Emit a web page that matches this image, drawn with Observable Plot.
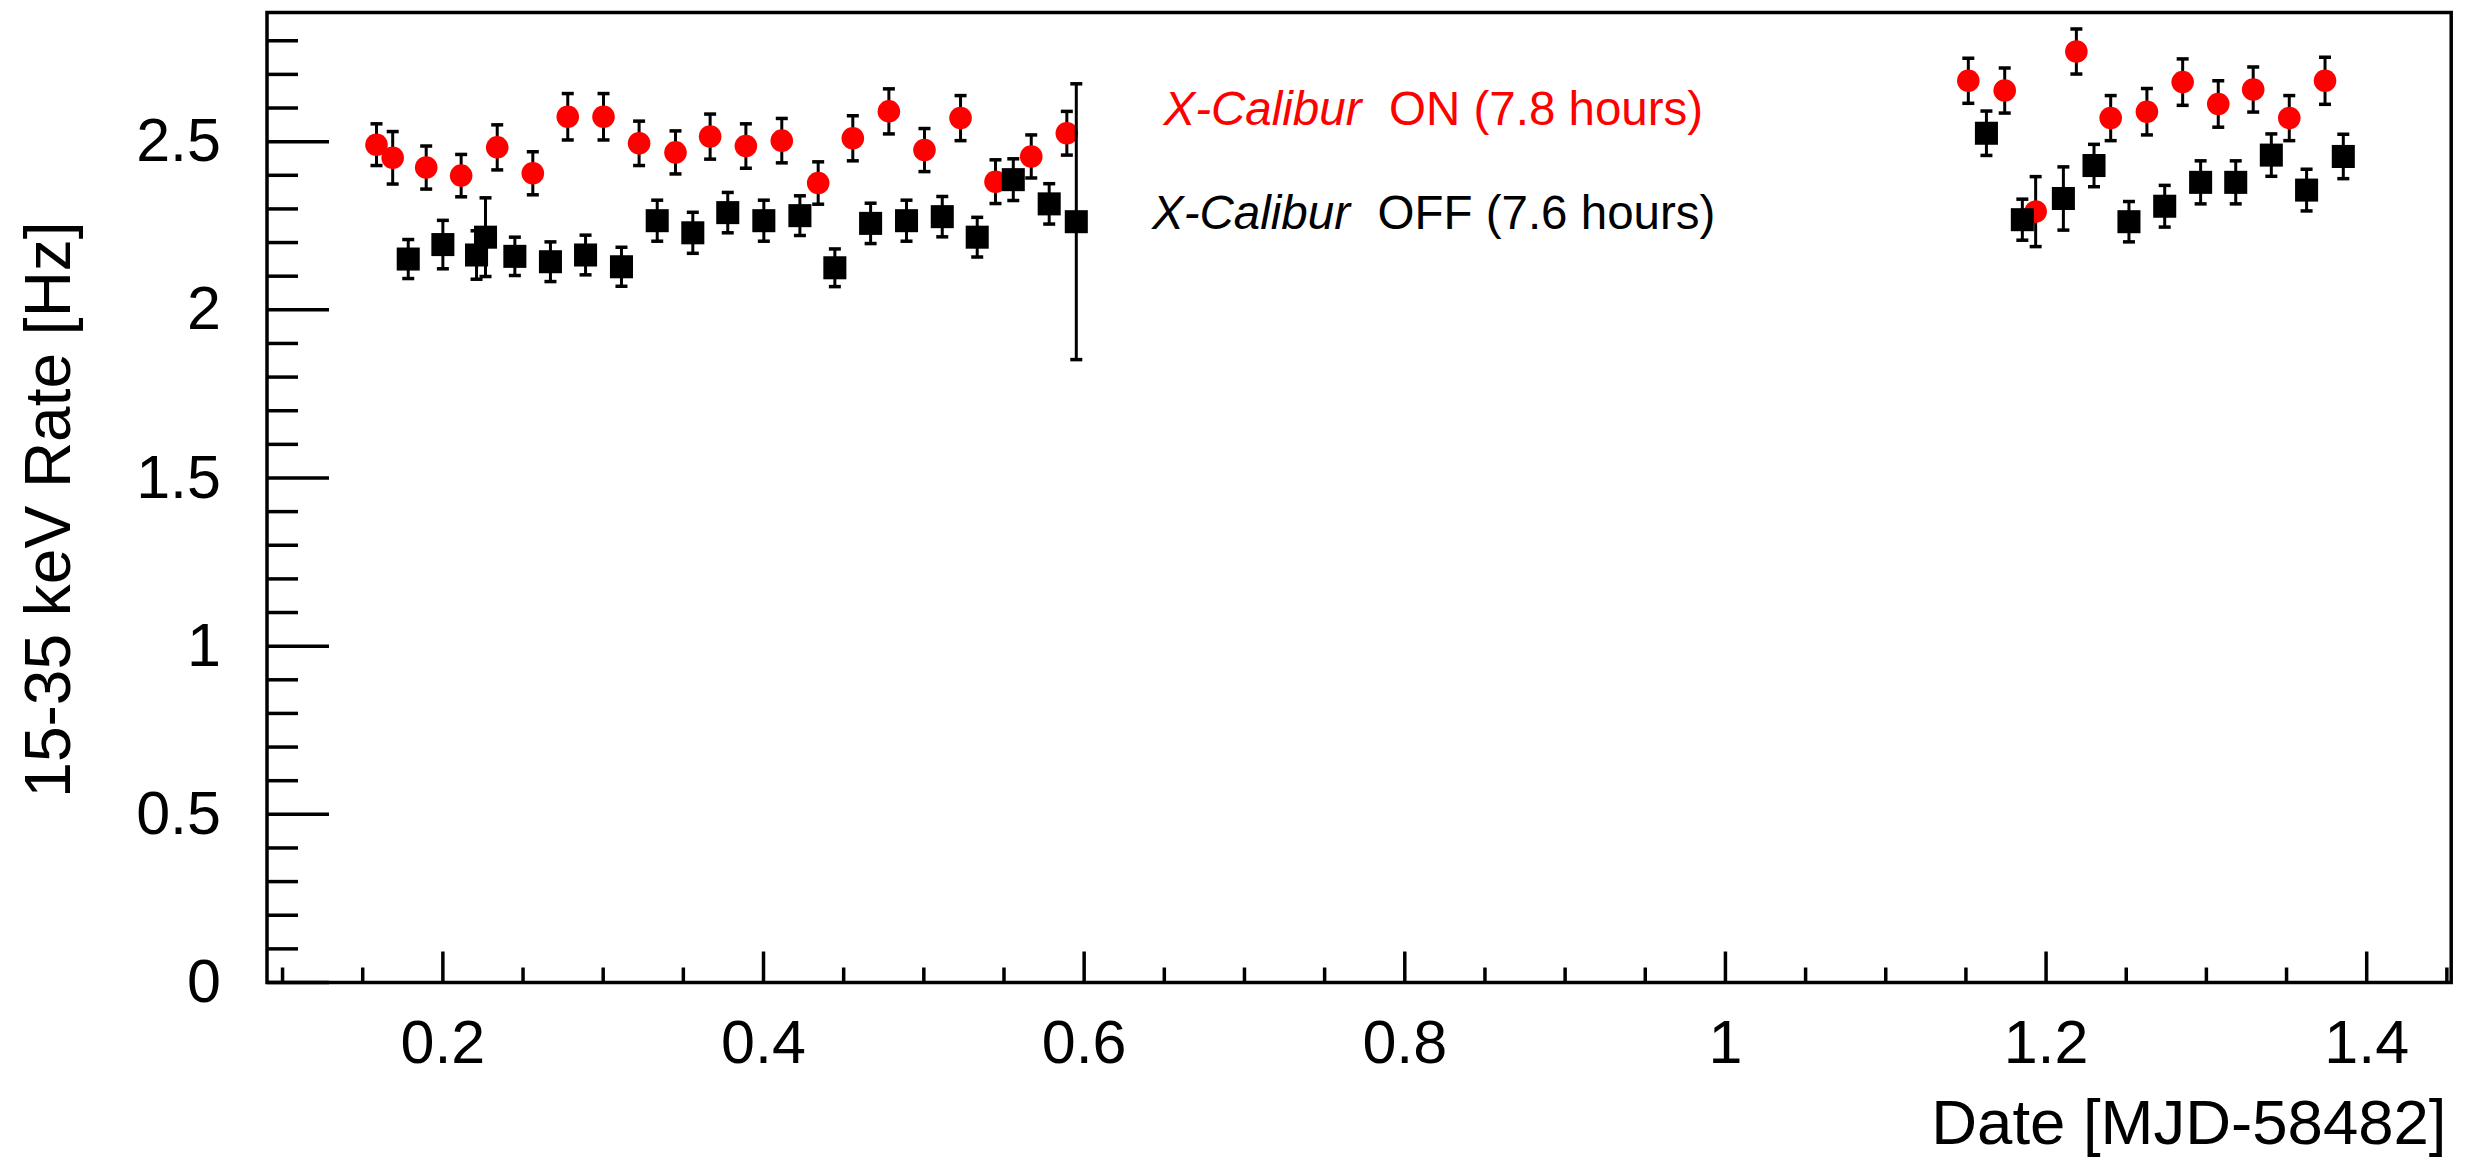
<!DOCTYPE html>
<html>
<head>
<meta charset="utf-8">
<script src="https://cdn.jsdelivr.net/npm/d3@7"></script>
<script src="https://cdn.jsdelivr.net/npm/@observablehq/plot@0.6"></script>
<style>
html, body { margin: 0; padding: 0; background: #fff; overflow: hidden; }
#chart svg { display: block; }
</style>
</head>
<body>
<div id="chart"></div>
<script>
// X-Calibur ON (red circles)
const onX = [0.1586, 0.1687, 0.1896, 0.2114, 0.2339, 0.2561, 0.2779, 0.3002, 0.3224, 0.3451, 0.3667,
  0.3890, 0.4114, 0.4341, 0.4557, 0.4782, 0.5004, 0.5229, 0.5447, 0.5670, 0.5892,
  1.1515, 1.1742, 1.1935, 1.2189, 1.2403, 1.2629, 1.2852, 1.3074, 1.3292, 1.3517, 1.3740];
const onY = [2.491, 2.452, 2.423, 2.399, 2.483, 2.406, 2.574, 2.574, 2.495, 2.468, 2.515,
  2.487, 2.503, 2.377, 2.510, 2.590, 2.475, 2.570, 2.381, 2.456, 2.525,
  2.681, 2.652, 2.292, 2.768, 2.570, 2.589, 2.677, 2.612, 2.655, 2.570, 2.681];
const onErr = [0.062, 0.078, 0.064, 0.063, 0.067, 0.064, 0.069, 0.069, 0.066, 0.064, 0.067,
  0.066, 0.066, 0.063, 0.067, 0.067, 0.064, 0.067, 0.065, 0.064, 0.065,
  0.067, 0.067, 0.104, 0.067, 0.067, 0.069, 0.069, 0.069, 0.067, 0.067, 0.070];

// X-Calibur OFF (black squares)
const offX = [0.1784, 0.2000, 0.2210, 0.2266, 0.2449, 0.2671, 0.2890, 0.3114, 0.3337, 0.3559, 0.3777,
  0.4002, 0.4227, 0.4445, 0.4668, 0.4892, 0.5115, 0.5333, 0.5558, 0.5782, 0.5951,
  1.1628, 1.1852, 1.2108, 1.2299, 1.2517, 1.2740, 1.2964, 1.3183, 1.3405, 1.3625, 1.3854];
const offY = [2.151, 2.194, 2.163, 2.216, 2.159, 2.143, 2.163, 2.128, 2.265, 2.229, 2.289,
  2.265, 2.280, 2.125, 2.257, 2.265, 2.277, 2.216, 2.387, 2.315, 2.262,
  2.525, 2.268, 2.331, 2.429, 2.262, 2.308, 2.379, 2.379, 2.460, 2.356, 2.456];
const offErr = [0.058, 0.072, 0.072, 0.117, 0.057, 0.059, 0.059, 0.058, 0.061, 0.061, 0.060,
  0.061, 0.059, 0.056, 0.060, 0.061, 0.060, 0.059, 0.062, 0.060, 0.410,
  0.066, 0.061, 0.094, 0.063, 0.060, 0.062, 0.064, 0.064, 0.063, 0.062, 0.066];

const xMajorTicks = [0.2, 0.4, 0.6, 0.8, 1, 1.2, 1.4];
const yMajorTicks = [0, 0.5, 1, 1.5, 2, 2.5];
const xMinorTicks = d3.range(2, 30).map(i => i * 0.05).filter(v => Math.abs(v * 5 - Math.round(v * 5)) > 1e-6);
const yMinorTicks = d3.range(1, 29).map(i => i * 0.1).filter(v => Math.abs(v * 2 - Math.round(v * 2)) > 1e-6);

const xTitle = "Date [MJD-58482]";
const yTitle = "15-35 keV Rate [Hz]";
const legendItalic = "X-Calibur";
const onLabel = "ON (7.8 hours)";
const offLabel = "OFF (7.6 hours)";

const onData = onX.map((x, i) => ({x, y: onY[i], e: onErr[i]}));
const offData = offX.map((x, i) => ({x, y: offY[i], e: offErr[i]}));

const FONT = "'Liberation Sans', Arial, Helvetica, sans-serif";

const capSymbol = {draw(ctx, size) { const r = Math.sqrt(size / Math.PI); ctx.moveTo(-r, 0); ctx.lineTo(r, 0); }};
const upLine = {draw(ctx, size) { const r = Math.sqrt(size / Math.PI); ctx.moveTo(0, 0); ctx.lineTo(0, -r); }};
const rightLine = {draw(ctx, size) { const r = Math.sqrt(size / Math.PI); ctx.moveTo(0, 0); ctx.lineTo(r, 0); }};

function errorMarks(data) {
  return [
    Plot.ruleX(data, {x: "x", y1: d => d.y - d.e, y2: d => d.y + d.e, stroke: "black", strokeWidth: 3}),
    Plot.dot(data, {x: "x", y: d => d.y + d.e, symbol: capSymbol, r: 6, stroke: "black", fill: "none", strokeWidth: 3.5}),
    Plot.dot(data, {x: "x", y: d => d.y - d.e, symbol: capSymbol, r: 6, stroke: "black", fill: "none", strokeWidth: 3.5})
  ];
}

const chart = Plot.plot({
  width: 2476,
  height: 1157,
  marginLeft: 266.5,
  marginRight: 25.3,
  marginTop: 12,
  marginBottom: 175,
  style: {fontFamily: FONT, color: "black", background: "white"},
  x: {domain: [0.0903, 1.4527], label: null},
  y: {domain: [0, 2.884], label: null},
  marks: [
    // ticks
    Plot.dot(yMajorTicks, {y: d => d, frameAnchor: "left", symbol: rightLine, r: 62, stroke: "black", fill: "none", strokeWidth: 3.5}),
    Plot.dot(yMinorTicks, {y: d => d, frameAnchor: "left", symbol: rightLine, r: 31, stroke: "black", fill: "none", strokeWidth: 3.5}),
    Plot.dot(xMajorTicks, {x: d => d, frameAnchor: "bottom", symbol: upLine, r: 31, stroke: "black", fill: "none", strokeWidth: 3.5}),
    Plot.dot(xMinorTicks, {x: d => d, frameAnchor: "bottom", symbol: upLine, r: 15, stroke: "black", fill: "none", strokeWidth: 3.5}),
    Plot.axisY(yMajorTicks, {anchor: "left", tickSize: 0, tickPadding: 46, fontSize: 61, fontFamily: FONT, tickFormat: d => String(d), label: null}),
    Plot.axisX(xMajorTicks, {anchor: "bottom", tickSize: 0, tickPadding: 37, fontSize: 61, fontFamily: FONT, tickFormat: d => String(d), label: null}),
    Plot.frame({stroke: "black", strokeWidth: 3.5}),
    // ON series
    ...errorMarks(onData),
    Plot.dot(onData, {x: "x", y: "y", r: 11.3, fill: "#ff0000", stroke: "none"}),
    // OFF series
    ...errorMarks(offData),
    Plot.dot(offData, {x: "x", y: "y", symbol: "square", r: 13, fill: "black", stroke: "none"}),
    // axis titles
    Plot.text([xTitle], {text: d => d, frameAnchor: "bottom-right", textAnchor: "end", lineAnchor: "bottom", dx: -4.7, dy: 161, fontSize: 63.5, fontFamily: FONT, fill: "black"}),
    Plot.text([yTitle], {text: d => d, frameAnchor: "left", rotate: -90, textAnchor: "middle", lineAnchor: "bottom", dx: -197, dy: 12, fontSize: 64, fontFamily: FONT, fill: "black"}),
    // legend
    Plot.text([legendItalic], {text: d => d, frameAnchor: "top-left", textAnchor: "start", lineAnchor: "bottom", dx: 896.5, dy: 112.3, fontSize: 47.5, fontStyle: "italic", fontFamily: FONT, fill: "#ff0000"}),
    Plot.text([onLabel], {text: d => d, frameAnchor: "top-left", textAnchor: "start", lineAnchor: "bottom", dx: 1122, dy: 112.3, fontSize: 47.5, fontFamily: FONT, fill: "#ff0000"}),
    Plot.text([legendItalic], {text: d => d, frameAnchor: "top-left", textAnchor: "start", lineAnchor: "bottom", dx: 885, dy: 216.3, fontSize: 47.5, fontStyle: "italic", fontFamily: FONT, fill: "black"}),
    Plot.text([offLabel], {text: d => d, frameAnchor: "top-left", textAnchor: "start", lineAnchor: "bottom", dx: 1110.5, dy: 216.3, fontSize: 47.5, fontFamily: FONT, fill: "black"})
  ]
});
document.getElementById("chart").appendChild(chart);
</script>
</body>
</html>
